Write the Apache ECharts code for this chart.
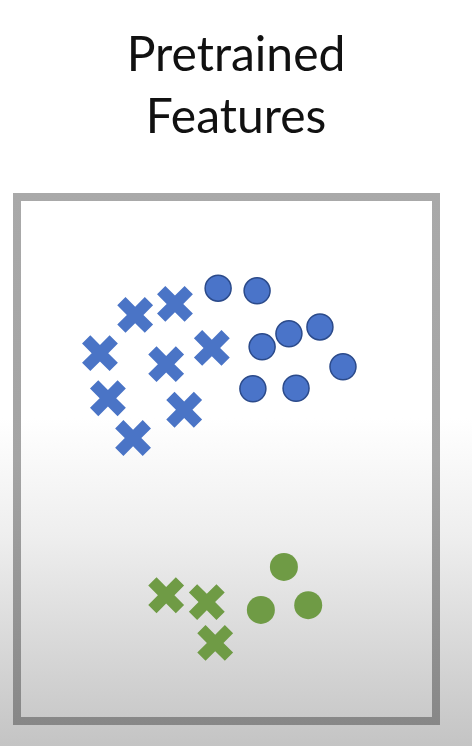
<!DOCTYPE html>
<html>
<head>
<meta charset="utf-8">
<title>Pretrained Features</title>
<script src="https://cdn.jsdelivr.net/npm/echarts@6/dist/echarts.min.js"></script>
<style>
    html, body { margin: 0; padding: 0; }
    #chart { width: 472px; height: 746px; }
</style>
</head>
<body>
<div id="chart"></div>
<script>
// Points in feature space (x, y)
const blueCrosses = [[28.2, 77.5], [37.7, 79.6], [19.8, 70.2], [35.6, 68.1], [46.5, 71.2], [21.7, 61.6], [39.9, 59.4], [27.7, 54.0]];
const blueCircles = [[48.0, 82.6], [57.3, 82.1], [58.5, 71.4], [64.9, 73.9], [72.3, 75.2], [77.8, 67.6], [56.3, 63.4], [66.6, 63.5]];
const greenCrosses = [[35.6, 24.0], [45.3, 22.7], [47.3, 14.9]];
const greenCircles = [[63.7, 29.4], [58.2, 21.2], [69.5, 22.1]];

const titleLines = ['Pretrained', 'Features'];

document.addEventListener('DOMContentLoaded', function() {
    const chart = echarts.init(document.getElementById('chart'));

    // plus sign, rotated 45deg to make a thick X
    const plusPath = 'path://M35,0H65V35H100V65H65V100H35V65H0V35H35Z';

    function crossSeries(data, color) {
        return {
            type: 'scatter',
            data: data,
            symbol: plusPath,
            symbolSize: 39,
            symbolRotate: 45,
            itemStyle: { color: color, opacity: 1 },
            silent: true
        };
    }

    function circleSeries(data, color, size, border) {
        return {
            type: 'scatter',
            data: data,
            symbol: 'circle',
            symbolSize: size,
            itemStyle: {
                color: color,
                opacity: 1,
                borderColor: border || color,
                borderWidth: border ? 1.5 : 0
            },
            silent: true
        };
    }

    const hiddenAxis = {
        type: 'value',
        min: 0,
        max: 100,
        axisLine: { show: false },
        axisTick: { show: false },
        axisLabel: { show: false },
        splitLine: { show: false }
    };

    chart.setOption({
        backgroundColor: new echarts.graphic.LinearGradient(0, 0, 0, 1, [
            { offset: 0, color: '#ffffff' },
            { offset: 0.56, color: '#ffffff' },
            { offset: 0.72, color: '#eeeeee' },
            { offset: 1, color: '#c4c4c4' }
        ]),
        animation: false,
        title: {
            text: titleLines.join('\n'),
            left: 'center',
            top: 20,
            textStyle: {
                fontFamily: 'Lato',
                fontWeight: 'normal',
                fontSize: 48,
                lineHeight: 62,
                color: '#111111'
            }
        },
        grid: {
            show: true,
            left: 17,
            right: 36,
            top: 197,
            bottom: 25,
            borderWidth: 8,
            borderColor: new echarts.graphic.LinearGradient(0, 0, 0, 1, [
                { offset: 0, color: '#a9a9a9' },
                { offset: 0.5, color: '#a4a4a4' },
                { offset: 1, color: '#878787' }
            ]),
            backgroundColor: 'transparent'
        },
        xAxis: hiddenAxis,
        yAxis: hiddenAxis,
        series: [
            crossSeries(blueCrosses, '#4a74c6'),
            circleSeries(blueCircles, '#4a74c9', 26, '#2b4a8a'),
            crossSeries(greenCrosses, '#6f9b45'),
            circleSeries(greenCircles, '#6f9b45', 28)
        ]
    });
});
</script>
</body>
</html>
